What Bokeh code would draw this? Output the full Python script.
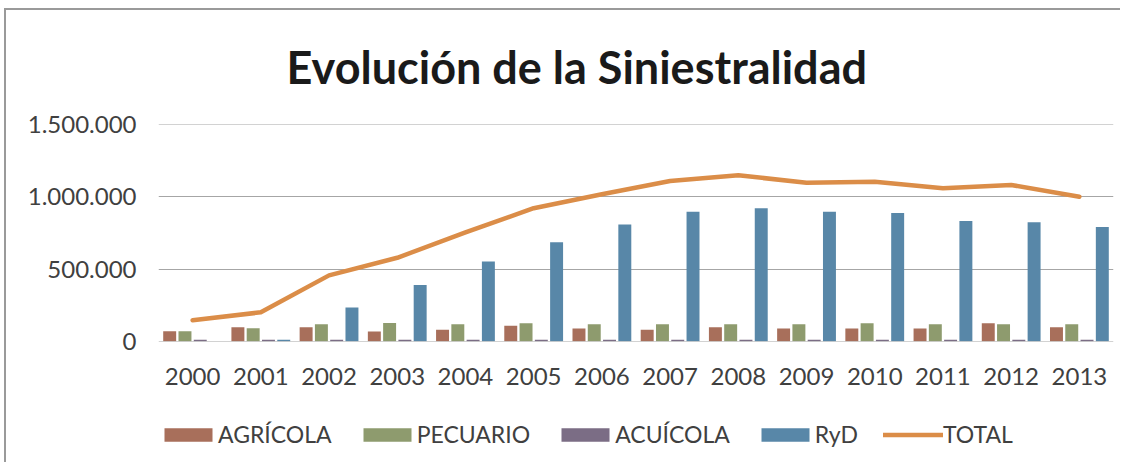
from bokeh.plotting import figure
from bokeh.layouts import column
from bokeh.models import (ColumnDataSource, FactorRange, Range1d, FixedTicker, Legend, LegendItem, Title)
from bokeh.transform import dodge
from bokeh.embed import file_html
from bokeh.resources import INLINE

years = ["2000", "2001", "2002", "2003", "2004", "2005", "2006", "2007",
         "2008", "2009", "2010", "2011", "2012", "2013"]
agricola = [69000, 97000, 97000, 67000, 79000, 106000, 88000, 79000,
            97000, 88000, 88000, 88000, 124000, 97000]
pecuario = [69000, 90000, 117000, 126000, 117000, 124000, 117000, 117000,
            117000, 117000, 124000, 117000, 117000, 117000]
acuicola = [10000, 10000, 10000, 10000, 10000, 10000, 10000, 10000,
            10000, 10000, 10000, 10000, 10000, 10000]
ryd = [0, 10000, 233000, 390000, 553000, 685000, 809000, 897000,
       922000, 897000, 888000, 834000, 825000, 791000]
total = [145000, 200000, 456000, 578000, 755000, 922000, 1019000, 1111000,
         1150000, 1099000, 1106000, 1060000, 1083000, 1002000]
y_ticks = [0, 500000, 1000000, 1500000]
y_tick_labels = ["0", "500.000", "1.000.000", "1.500.000"]
series_names = ["AGRÍCOLA", "PECUARIO", "ACUÍCOLA", "RyD", "TOTAL"]
title_text = "Evolución de la Siniestralidad"

colors = ["#A86F5B", "#8E9B6E", "#7B6D85", "#5887A8", "#DB8D48"]
FONT = "Lato"
TXT = "#404040"

src = ColumnDataSource(dict(year=years, agr=agricola, pec=pecuario, acu=acuicola,
                            ryd=ryd, total=total))

# ---- main chart ----
p = figure(x_range=FactorRange(*years), y_range=Range1d(-2500, 1502500),
           width=1114, height=390, output_backend="svg", toolbar_location=None,
           min_border_left=152, min_border_right=7, min_border_top=114,
           min_border_bottom=59)
p.outline_line_color = None
p.background_fill_color = "white"
p.border_fill_color = "white"

t = Title(text=title_text, align="left", vertical_align="top", offset=128,
          text_font=FONT, text_font_size="45px", text_font_style="bold",
          text_color="#1a1a1a", standoff=58)
p.add_layout(t, "above")

w = 0.19
offs = [-0.336, -0.112, 0.112, 0.336]
fields = ["agr", "pec", "acu", "ryd"]
for f, o, c in zip(fields, offs, colors[:4]):
    p.vbar(x=dodge("year", o, range=p.x_range), top=f, width=w, bottom=0,
           source=src, fill_color=c, line_color=None)
p.line(x="year", y="total", source=src, line_color=colors[4], line_width=4.5,
       line_join="round", line_cap="round")

p.xgrid.grid_line_color = None
p.ygrid.grid_line_color = "#a6a6a6"
p.ygrid.grid_line_width = 1.2
p.yaxis.ticker = FixedTicker(ticks=y_ticks)
p.yaxis.major_label_overrides = {t_: l for t_, l in zip(y_ticks, y_tick_labels)}
for ax in (p.xaxis, p.yaxis):
    ax.axis_line_color = None
    ax.major_tick_line_color = None
    ax.minor_tick_line_color = None
    ax.major_label_text_font = FONT
    ax.major_label_text_font_size = "24px"
    ax.major_label_text_color = TXT
p.yaxis.major_label_standoff = 16
p.xaxis.major_label_standoff = 20

# ---- legend strip (legend-only swatches, nothing plotted) ----
lg = figure(x_range=Range1d(0, 1), y_range=Range1d(0, 1), width=1114, height=62,
            output_backend="svg", toolbar_location=None,
            x_axis_location=None, y_axis_location=None,
            min_border_left=0, min_border_right=0,
            min_border_top=0, min_border_bottom=0)
lg.outline_line_color = None
lg.grid.visible = False
lg_rends = []
for c in colors[:4]:
    lg_rends.append(lg.vbar(x=[0.5], top=[0], bottom=[0], width=0.0, fill_color=c,
                            line_color=None))
lg_rends.append(lg.line(x=[0.5], y=[0.5], line_color=colors[4], line_width=4.5,
                        line_cap="round"))

legend = Legend(items=[LegendItem(label=n, renderers=[r]) for n, r in zip(series_names, lg_rends)],
                orientation="horizontal", location=(0, 14),
                border_line_color=None, background_fill_alpha=0,
                label_text_font=FONT, label_text_font_size="23px", label_text_color=TXT,
                glyph_width=60, glyph_height=17, spacing=25, padding=0, margin=0,
                label_standoff=0)
lg.add_layout(legend, "center")

layout = column(p, lg, spacing=0)
layout.margin = (8, 0, 0, 4)
layout.styles = {"border-top": "2px solid #9a9a9a", "border-left": "2px solid #9a9a9a"}

open("out.html", "w").write(file_html(layout, INLINE))
